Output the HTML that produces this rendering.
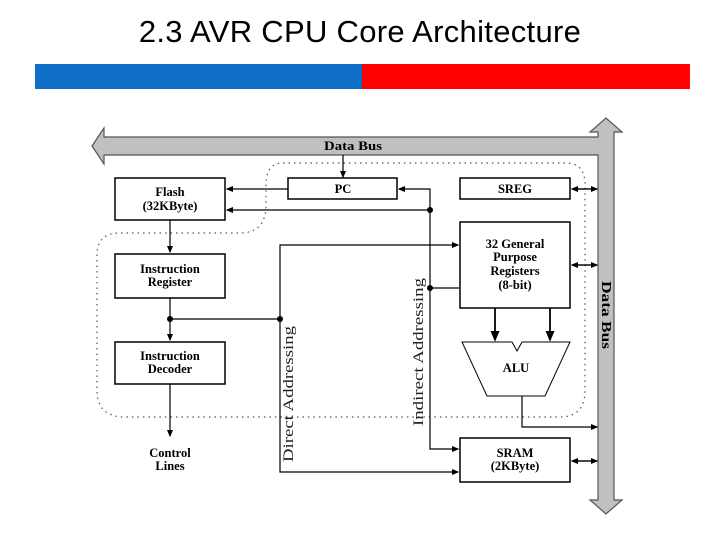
<!DOCTYPE html>
<html><head><style>
body{margin:0;width:720px;height:540px;background:#fff;overflow:hidden;position:relative;font-family:"Liberation Sans",sans-serif}
.t{position:absolute;left:0;width:720px;top:14px;text-align:center;font-size:31px;color:#000;letter-spacing:0.3px}
</style></head><body>
<div class="t">2.3 AVR CPU Core Architecture</div>
<div style="position:absolute;left:35px;top:64px;width:327px;height:25px;background:#0f6fc6"></div>
<div style="position:absolute;left:362px;top:64px;width:328px;height:25px;background:#ff0000"></div>
<svg width="720" height="540" style="position:absolute;left:0;top:0" font-family="Liberation Serif,serif" font-weight="bold" font-size="12.5">
<defs><marker id="a" markerWidth="6" markerHeight="6" refX="5" refY="3" orient="auto"><path d="M0,0.5L6,3L0,5.5z" fill="#000"/></marker></defs>
<path d="M92,146 L104,128 L104,137 L598,137 L598,132 L590,132 L606,118 L622,132 L614,132 L614,500 L622,500 L606,514 L590,500 L598,500 L598,155 L104,155 L104,164 Z" fill="#c0c0c0" stroke="#555" stroke-width="1.2"/>
<text x="353" y="150" text-anchor="middle" font-size="13" textLength="58" lengthAdjust="spacingAndGlyphs">Data Bus</text>
<text transform="translate(602,315) rotate(90)" text-anchor="middle" font-size="14" textLength="68" lengthAdjust="spacingAndGlyphs">Data Bus</text>
<path d="M283,163 L566,163 Q585,163 585,185 L585,390 Q585,417 560,417 L125,417 Q97,417 97,390 L97,255 Q97,233 120,233 L240,233 Q266,233 266,205 L266,185 Q266,163 283,163 Z" fill="none" stroke="#555" stroke-width="1.2" stroke-dasharray="1.5,4"/>
<g fill="#fff" stroke="#000" stroke-width="1.5">
<rect x="115" y="178" width="110" height="42"/>
<rect x="288" y="178" width="109" height="21"/>
<rect x="460" y="178" width="110" height="21"/>
<rect x="460" y="222" width="110" height="86"/>
<rect x="115" y="254" width="110" height="44"/>
<rect x="115" y="342" width="110" height="42"/>
<rect x="460" y="438" width="110" height="44"/>
<path d="M462,342 L512,342 L517,351 L522,342 L570,342 L545,396 L487,396 Z" stroke-width="1"/>
</g>
<g text-anchor="middle">
<text x="170" y="196">Flash</text><text x="170" y="210">(32KByte)</text>
<text x="343" y="193">PC</text><text x="515" y="193">SREG</text>
<text x="515" y="248">32 General</text><text x="515" y="261">Purpose</text><text x="515" y="275">Registers</text><text x="515" y="289">(8-bit)</text>
<text x="170" y="273">Instruction</text><text x="170" y="286">Register</text>
<text x="170" y="360">Instruction</text><text x="170" y="373">Decoder</text>
<text x="516" y="372">ALU</text>
<text x="515" y="457">SRAM</text><text x="515" y="470">(2KByte)</text>
<text x="170" y="457">Control</text><text x="170" y="470">Lines</text>
</g>
<g font-size="15" font-weight="normal" text-anchor="middle" fill="#222">
<text transform="translate(293,394) rotate(-90)" textLength="136" lengthAdjust="spacingAndGlyphs">Direct Addressing</text>
<text transform="translate(423,352) rotate(-90)" textLength="148" lengthAdjust="spacingAndGlyphs">Indirect Addressing</text>
</g>
<g stroke="#000" stroke-width="1.2" fill="none" marker-end="url(#a)">
<path d="M343,155 L343,177"/>
<path d="M288,189 L227,189"/>
<path d="M430,210 L430,189 L399,189"/>
<path d="M430,210 L227,210"/>
<path d="M430,210 L430,449 L458,449"/>
<path d="M430,288 L459,288" marker-end="none"/>
<path d="M280,319 L280,245 L458,245"/>
<path d="M280,319 L280,472 L458,472"/>
<path d="M170,220 L170,252"/>
<path d="M170,298 L170,340"/>
<path d="M170,319 L280,319" marker-end="none"/>
<path d="M170,384 L170,436"/>
<path d="M495,308 L495,340" stroke-width="1.8"/>
<path d="M550,308 L550,340" stroke-width="1.8"/>
<path d="M522,396 L522,427 L597,427"/>
<path d="M572,189 L597,189"/><path d="M597,189 L572,189"/>
<path d="M572,265 L597,265"/><path d="M597,265 L572,265"/>
<path d="M572,461 L597,461"/><path d="M597,461 L572,461"/>
</g>
<g fill="#000"><circle cx="430" cy="210" r="3"/><circle cx="430" cy="288" r="3"/><circle cx="170" cy="319" r="3"/><circle cx="280" cy="319" r="3"/></g>
</svg>
</body></html>
